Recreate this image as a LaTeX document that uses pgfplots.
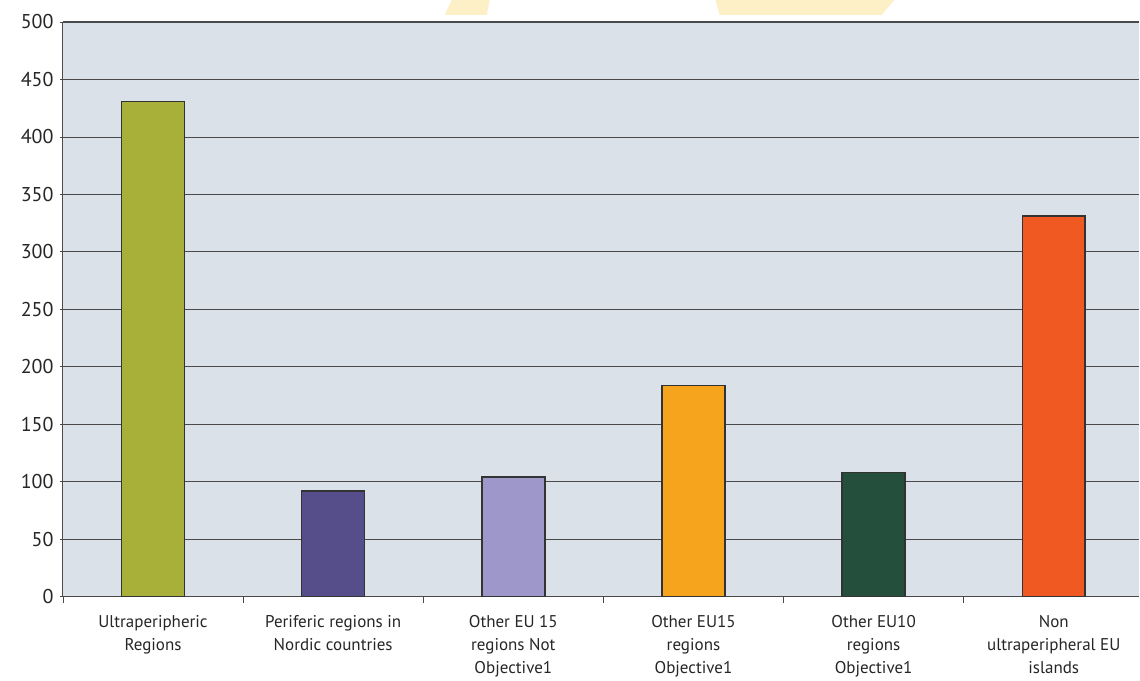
\documentclass[border=0pt]{standalone}
\usepackage{fontspec}
\setmainfont{PT Sans}
\usepackage{pgfplots}
\pgfplotsset{compat=1.18}
\definecolor{bgc}{HTML}{DAE1E8}
\definecolor{gridc}{HTML}{4A4A4A}
\definecolor{c1}{HTML}{A8B03A}
\definecolor{c2}{HTML}{554E8A}
\definecolor{c3}{HTML}{9E97C9}
\definecolor{c4}{HTML}{F6A41E}
\definecolor{c5}{HTML}{254F3D}
\definecolor{c6}{HTML}{F05A22}
\definecolor{wm}{HTML}{FDEFC6}
\begin{document}
\begin{tikzpicture}
\begin{axis}[
  scale only axis,
  width=1077pt, height=575pt,
  xmin=-0.5, xmax=5.475,
  ymin=0, ymax=500,
  ytick={0,50,...,500},
  xtick={0,1,2,3,4,5},
  xticklabels={{Ultraperipheric\\Regions},{Periferic regions in\\Nordic countries},{Other EU 15\\regions Not\\Objective1},{Other EU15\\regions\\Objective1},{Other EU10\\regions\\Objective1},{Non\\ultraperipheral EU\\islands}},
  major x tick style={draw=none},
  minor xtick={-0.5,0.5,1.5,2.5,3.5,4.5},
  minor x tick style={gridc, line width=0.8pt},
  minor tick length=6pt,
  major tick length=6pt,
  tick align=outside,
  ytick style={gridc, line width=0.8pt},
  axis lines=left,
  axis line style={-, gridc, line width=1pt},
  axis background/.style={fill=bgc},
  ymajorgrids,
  major grid style={gridc, line width=0.7pt},
  xticklabel style={align=center, font=\fontsize{17}{23}\selectfont, yshift=-9pt, text=black!85},
  yticklabel style={font=\fontsize{20}{20}\selectfont, xshift=-3pt, text=black!85},
  /pgf/number format/assume math mode=true,
  ybar, bar width=63pt, bar shift=0pt,
  every axis plot/.append style={draw=black!80, line width=1.5pt},
  clip=false,
]
\addplot[fill=c1] coordinates {(0,431)};
\addplot[fill=c2] coordinates {(1,92)};
\addplot[fill=c3] coordinates {(2,104)};
\addplot[fill=c4] coordinates {(3,183.5)};
\addplot[fill=c5] coordinates {(4,108)};
\addplot[fill=c6] coordinates {(5,331)};
\draw[gridc, line width=1.4pt] (axis cs:-0.5,500) -- (axis cs:5.475,500);
\end{axis}
\fill[wm] ([shift={(382pt,7pt)}]current axis.north west) -- ([shift={(424pt,7pt)}]current axis.north west) -- ([shift={(427pt,22pt)}]current axis.north west) -- ([shift={(389pt,22pt)}]current axis.north west) -- cycle;
\fill[wm] ([shift={(657pt,7pt)}]current axis.north west) -- ([shift={(819pt,7pt)}]current axis.north west) -- ([shift={(832pt,22pt)}]current axis.north west) -- ([shift={(653pt,22pt)}]current axis.north west) -- cycle;
\useasboundingbox ([shift={(-63pt,-80pt)}]current axis.south west) rectangle ([shift={(0pt,22pt)}]current axis.north east);
\end{tikzpicture}
\end{document}
